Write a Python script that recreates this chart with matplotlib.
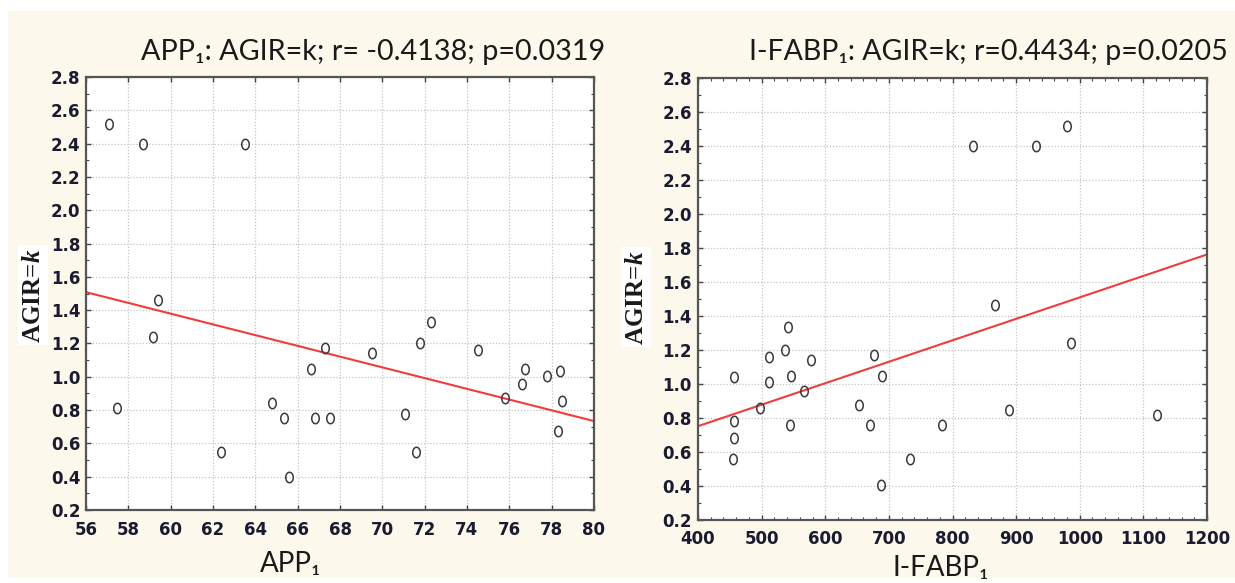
import numpy as np
import matplotlib
matplotlib.use("Agg")
import matplotlib.pyplot as plt
from matplotlib.path import Path
from matplotlib.patches import Rectangle
from matplotlib.ticker import MultipleLocator

# ---------------- data ----------------
app1 = [57.1, 58.7, 63.5, 59.4, 59.15, 57.45, 62.4, 64.8, 65.35, 65.6, 66.65, 66.8,
        67.3, 67.55, 69.5, 71.05, 71.6, 71.8, 72.3, 74.5, 75.8, 76.6, 76.75, 77.8,
        78.4, 78.5, 78.3]
agir_left = [2.52, 2.40, 2.40, 1.46, 1.24, 0.81, 0.55, 0.845, 0.75, 0.40, 1.045, 0.75,
             1.17, 0.75, 1.14, 0.775, 0.55, 1.20, 1.33, 1.16, 0.875, 0.955, 1.045, 1.005,
             1.035, 0.855, 0.675]

ifabp1 = [832, 931, 980, 867, 457, 456, 457, 455, 497, 511, 511, 537, 542, 546, 545,
          566, 577, 653, 670, 677, 689, 688, 733, 783, 889, 986, 1122]
agir_right = [2.40, 2.40, 2.52, 1.465, 1.04, 0.78, 0.68, 0.557, 0.856, 1.16, 1.01, 1.20,
              1.335, 1.05, 0.758, 0.958, 1.14, 0.879, 0.758, 1.17, 1.05, 0.404, 0.557,
              0.758, 0.846, 1.241, 0.817]

left_fit_x = [56, 80]
left_fit_y = [1.508, 0.734]
right_fit_x = [400, 1200]
right_fit_y = [0.752, 1.762]

left_title = "APP\u2081: AGIR=k; r= -0.4138; p=0.0319"
right_title = "I-FABP\u2081: AGIR=k; r=0.4434; p=0.0205"
left_xlabel = "APP\u2081"
right_xlabel = "I-FABP\u2081"
ylabel_math = r"$\mathrm{AGIR}\!=\!\mathit{k}$"

# ---------------- style ----------------
plt.rcParams['mathtext.fontset'] = 'custom'
plt.rcParams['mathtext.rm'] = 'Liberation Serif:bold'
plt.rcParams['mathtext.it'] = 'Liberation Serif:italic:bold'
plt.rcParams['mathtext.bf'] = 'Liberation Serif:bold'

W, H = 1235, 583
fig = plt.figure(figsize=(W / 100, H / 100), dpi=100, facecolor='white')
fig.patches.append(Rectangle((8 / W, 1 - 578 / H), 1 - 8 / W, (578 - 11) / H,
                             transform=fig.transFigure, facecolor='#fdf8ec',
                             edgecolor='none', zorder=-10))

theta = np.linspace(0, 2 * np.pi, 40)
ell = Path(np.column_stack([0.72 * np.cos(theta), np.sin(theta)]), closed=True)

def px_axes(l, t, r, b):
    return fig.add_axes([l / W, 1 - b / H, (r - l) / W, (b - t) / H])

title_font = dict(family=['Lato', 'DejaVu Sans'], color='#1a1a1a')
tick_color = '#1a1a30'
spine_color = '#555555'


def style_axes(ax, xmaj, xmin, ymaj, ymin, xpad, ypad):
    ax.set_facecolor('white')
    ax.xaxis.set_major_locator(MultipleLocator(xmaj))
    ax.yaxis.set_major_locator(MultipleLocator(ymaj))
    if xmin:
        ax.xaxis.set_minor_locator(MultipleLocator(xmin))
    ax.yaxis.set_minor_locator(MultipleLocator(ymin))
    ax.tick_params(which='both', direction='in', top=True, right=True,
                   color='#444444')
    ax.tick_params(which='major', length=3.5, width=1.0)
    ax.tick_params(which='minor', length=2.0, width=0.8)
    ax.tick_params(axis='x', which='major', pad=xpad, labelsize=12,
                   labelcolor=tick_color)
    ax.tick_params(axis='y', which='major', pad=ypad, labelsize=12,
                   labelcolor=tick_color)
    ax.yaxis.set_major_formatter(matplotlib.ticker.FormatStrFormatter('%.1f'))
    for lab in ax.get_xticklabels() + ax.get_yticklabels():
        lab.set_family('DejaVu Sans')
        lab.set_fontweight('bold')
    ax.grid(True, which='major', linestyle=(0, (1, 1.5)), color='#c4c4c4',
            linewidth=0.9)
    ax.set_axisbelow(True)
    for s in ax.spines.values():
        s.set_color(spine_color)
        s.set_linewidth(1.6)


# ---------------- left panel ----------------
ax1 = px_axes(86, 77, 594, 510)
ax1.plot(left_fit_x, left_fit_y, color='#f03c3c', lw=1.5, zorder=2)
ax1.plot(app1, agir_left, linestyle='none', marker=ell, markersize=7.5,
         markerfacecolor='none', markeredgecolor='#3a3a3a', markeredgewidth=1.1,
         zorder=3)
ax1.set_xlim(56, 80)
ax1.set_ylim(0.2, 2.8)
style_axes(ax1, 2, None, 0.2, 0.1, 8, 4)

# ---------------- right panel ----------------
ax2 = px_axes(698, 78, 1207, 520)
ax2.plot(right_fit_x, right_fit_y, color='#f03c3c', lw=1.5, zorder=2)
ax2.plot(ifabp1, agir_right, linestyle='none', marker=ell, markersize=7.5,
         markerfacecolor='none', markeredgecolor='#3a3a3a', markeredgewidth=1.1,
         zorder=3)
ax2.set_xlim(400, 1200)
ax2.set_ylim(0.2, 2.8)
style_axes(ax2, 100, 20, 0.2, 0.1, 7, 4.5)

# ---------------- texts ----------------
fig.text(605 / W, 1 - 60 / H, left_title, ha='right', va='baseline',
         fontsize=20.7, **title_font)
fig.text(1228 / W, 1 - 60 / H, right_title, ha='right', va='baseline',
         fontsize=20.5, **title_font)

fig.text(291 / W, 1 - 572 / H, left_xlabel, ha='center', va='baseline',
         fontsize=20, **title_font)
fig.text(941 / W, 1 - 576 / H, right_xlabel, ha='center', va='baseline',
         fontsize=20, **title_font)

fig.text(33 / W, 1 - 295 / H, ylabel_math, rotation=90, ha='center',
         va='center', fontsize=18, color='#1a1a1a',
         bbox=dict(facecolor='white', edgecolor='none', pad=2))
fig.text(636 / W, 1 - 297 / H, ylabel_math, rotation=90, ha='center',
         va='center', fontsize=18, color='#1a1a1a',
         bbox=dict(facecolor='white', edgecolor='none', pad=2))

fig.savefig('out.png', dpi=100, facecolor='white')
